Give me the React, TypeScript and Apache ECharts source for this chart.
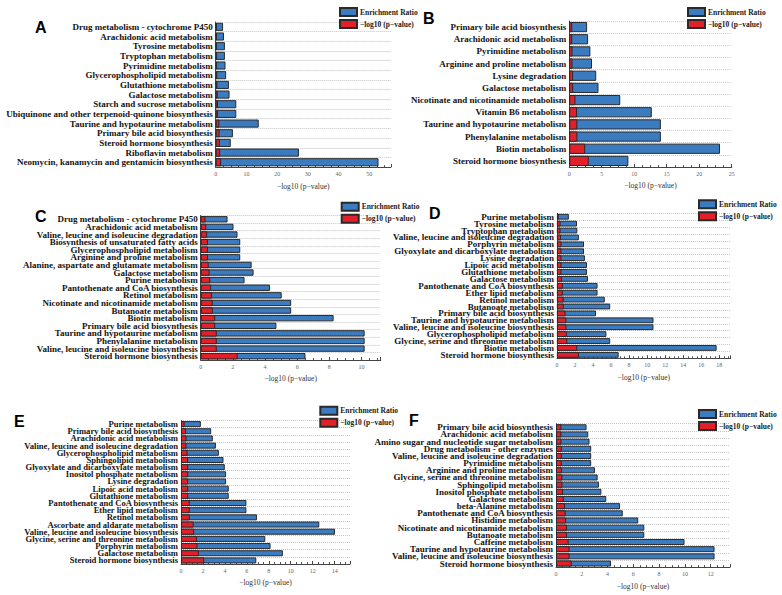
import React, { useEffect, useRef } from "react";
import * as echarts from "echarts";

// ---------- Panel A ----------
const aPathways = [
  "Drug metabolism - cytochrome P450",
  "Arachidonic acid metabolism",
  "Tyrosine metabolism",
  "Tryptophan metabolism",
  "Pyrimidine metabolism",
  "Glycerophospholipid metabolism",
  "Glutathione metabolism",
  "Galactose metabolism",
  "Starch and sucrose metabolism",
  "Ubiquinone and other terpenoid-quinone biosynthesis",
  "Taurine and hypotaurine metabolism",
  "Primary bile acid biosynthesis",
  "Steroid hormone biosynthesis",
  "Riboflavin metabolism",
  "Neomycin, kanamycin and gentamicin biosynthesis",
];
const aEnrichment = [2.4, 2.7, 3.0, 3.0, 3.2, 3.4, 4.3, 4.5, 6.7, 6.7, 14.0, 5.6, 4.9, 27.1, 53.0];
const aLogP = [0.35, 0.4, 0.4, 0.45, 0.45, 0.5, 0.55, 0.65, 0.75, 0.75, 1.2, 1.25, 1.35, 1.45, 1.75];

// ---------- Panel B ----------
const bPathways = [
  "Primary bile acid biosynthesis",
  "Arachidonic acid metabolism",
  "Pyrimidine metabolism",
  "Arginine and proline metabolism",
  "Lysine degradation",
  "Galactose metabolism",
  "Nicotinate and nicotinamide metabolism",
  "Vitamin B6 metabolism",
  "Taurine and hypotaurine metabolism",
  "Phenylalanine metabolism",
  "Biotin metabolism",
  "Steroid hormone biosynthesis",
];
const bEnrichment = [2.75, 2.9, 3.25, 3.5, 4.15, 4.5, 7.85, 12.7, 14.1, 14.1, 23.2, 9.1];
const bLogP = [0.45, 0.45, 0.5, 0.5, 0.6, 0.6, 0.95, 1.2, 1.25, 1.25, 2.45, 3.0];

// ---------- Panel C ----------
const cPathways = [
  "Drug metabolism - cytochrome P450",
  "Arachidonic acid metabolism",
  "Valine, leucine and isoleucine degradation",
  "Biosynthesis of unsaturated fatty acids",
  "Glycerophospholipid metabolism",
  "Arginine and proline metabolism",
  "Alanine, aspartate and glutamate metabolism",
  "Galactose metabolism",
  "Purine metabolism",
  "Pantothenate and CoA biosynthesis",
  "Retinol metabolism",
  "Nicotinate and nicotinamide metabolism",
  "Butanoate metabolism",
  "Biotin metabolism",
  "Primary bile acid biosynthesis",
  "Taurine and hypotaurine metabolism",
  "Phenylalanine metabolism",
  "Valine, leucine and isoleucine biosynthesis",
  "Steroid hormone biosynthesis",
];
const cEnrichment = [1.67, 2.04, 2.29, 2.46, 2.46, 2.46, 3.17, 3.29, 2.73, 4.31, 5.04, 5.63, 5.63, 8.27, 4.71, 10.2, 10.2, 10.2, 6.52];
const cLogP = [0.3, 0.35, 0.4, 0.45, 0.45, 0.45, 0.5, 0.55, 0.6, 0.65, 0.7, 0.75, 0.75, 0.9, 0.9, 1.0, 1.0, 1.0, 2.3];

// ---------- Panel D ----------
const dPathways = [
  "Purine metabolism",
  "Tyrosine metabolism",
  "Tryptophan metabolism",
  "Valine, leucine and isoleucine degradation",
  "Porphyrin metabolism",
  "Glyoxylate and dicarboxylate metabolism",
  "Lysine degradation",
  "Lipoic acid metabolism",
  "Glutathione metabolism",
  "Galactose metabolism",
  "Pantothenate and CoA biosynthesis",
  "Ether lipid metabolism",
  "Retinol metabolism",
  "Butanoate metabolism",
  "Primary bile acid biosynthesis",
  "Taurine and hypotaurine metabolism",
  "Valine, leucine and isoleucine biosynthesis",
  "Glycerophospholipid metabolism",
  "Glycine, serine and threonine metabolism",
  "Biotin metabolism",
  "Steroid hormone biosynthesis",
];
const dEnrichment = [1.32, 2.22, 2.26, 2.43, 3.0, 3.0, 3.1, 3.33, 3.33, 3.44, 4.5, 4.5, 5.3, 5.9, 4.33, 10.7, 10.7, 5.48, 5.9, 17.7, 6.84];
const dLogP = [0.2, 0.4, 0.4, 0.45, 0.5, 0.5, 0.5, 0.5, 0.5, 0.55, 0.65, 0.65, 0.75, 0.75, 0.95, 1.05, 1.05, 1.1, 1.15, 2.25, 2.43];

// ---------- Panel E ----------
const ePathways = [
  "Purine metabolism",
  "Primary bile acid biosynthesis",
  "Arachidonic acid metabolism",
  "Valine, leucine and isoleucine degradation",
  "Glycerophospholipid metabolism",
  "Sphingolipid metabolism",
  "Glyoxylate and dicarboxylate metabolism",
  "Inositol phosphate metabolism",
  "Lysine degradation",
  "Lipoic acid metabolism",
  "Glutathione metabolism",
  "Pantothenate and CoA biosynthesis",
  "Ether lipid metabolism",
  "Retinol metabolism",
  "Ascorbate and aldarate metabolism",
  "Valine, leucine and isoleucine biosynthesis",
  "Glycine, serine and threonine metabolism",
  "Porphyrin metabolism",
  "Galactose metabolism",
  "Steroid hormone biosynthesis",
];
const eEnrichment = [1.81, 2.75, 2.9, 3.18, 3.45, 3.87, 3.99, 4.11, 4.11, 4.35, 4.35, 5.96, 5.96, 6.92, 12.6, 14.03, 7.68, 8.16, 9.28, 6.86];
const eLogP = [0.33, 0.45, 0.5, 0.5, 0.6, 0.65, 0.65, 0.65, 0.65, 0.65, 0.65, 0.8, 0.8, 0.8, 1.15, 1.2, 1.45, 1.5, 1.63, 2.12];

// ---------- Panel F ----------
const fPathways = [
  "Primary bile acid biosynthesis",
  "Arachidonic acid metabolism",
  "Amino sugar and nucleotide sugar metabolism",
  "Drug metabolism - other enzymes",
  "Valine, leucine and isoleucine degradation",
  "Pyrimidine metabolism",
  "Arginine and proline metabolism",
  "Glycine, serine and threonine metabolism",
  "Sphingolipid metabolism",
  "Inositol phosphate metabolism",
  "Galactose metabolism",
  "beta-Alanine metabolism",
  "Pantothenate and CoA biosynthesis",
  "Histidine metabolism",
  "Nicotinate and nicotinamide metabolism",
  "Butanoate metabolism",
  "Caffeine metabolism",
  "Taurine and hypotaurine metabolism",
  "Valine, leucine and isoleucine biosynthesis",
  "Steroid hormone biosynthesis",
];
const fEnrichment = [2.37, 2.5, 2.6, 2.73, 2.73, 2.73, 3.02, 3.23, 3.33, 3.52, 3.9, 4.97, 5.18, 6.38, 6.85, 6.85, 9.97, 12.3, 12.3, 4.27];
const fLogP = [0.42, 0.42, 0.42, 0.45, 0.45, 0.45, 0.45, 0.5, 0.5, 0.55, 0.6, 0.7, 0.75, 0.78, 0.85, 0.85, 0.98, 1.05, 1.05, 1.22];

const SERIES_RATIO = "Enrichment Ratio";
const SERIES_LOGP = "\u2212log10 (p\u2212value)";

const SERIF = "'Liberation Serif', 'Times New Roman', serif";
const SANS = "'Liberation Sans', Arial, sans-serif";
const BLUE = "#3b7bbf";
const RED = "#e3202a";
const EDGE = "#2a2a2a";

type Box = { left: number; top: number; width: number; height: number };
type Panel = {
  letter: string;
  pathways: string[];
  enrichment: number[];
  logP: number[];
  axisMax: number;
  axisStep: number;
  box: Box;
  grid: { left: number; right: number; top: number; bottom: number };
  legendAt: [number, number];
  letterAt: [number, number];
  labelSize: number;
  labelLine: number;
  nameGap: number;
};

const panels: Panel[] = [
  {
    letter: "A", pathways: aPathways, enrichment: aEnrichment, logP: aLogP,
    axisMax: 57, axisStep: 10,
    box: { left: 0, top: 0, width: 430, height: 195 },
    grid: { left: 215.7, right: 39.2, top: 22, bottom: 27 },
    legendAt: [339, 7], letterAt: [35, 19], labelSize: 9, labelLine: 9.5, nameGap: 12,
  },
  {
    letter: "B", pathways: bPathways, enrichment: bEnrichment, logP: bLogP,
    axisMax: 25, axisStep: 5,
    box: { left: 408, top: 0, width: 374, height: 195 },
    grid: { left: 144.7, right: 50.3, top: 21, bottom: 28 },
    legendAt: [279, 7], letterAt: [15, 10], labelSize: 9, labelLine: 11, nameGap: 12.5,
  },
  {
    letter: "C", pathways: cPathways, enrichment: cEnrichment, logP: cLogP,
    axisMax: 11.2, axisStep: 2,
    box: { left: 0, top: 190, width: 430, height: 200 },
    grid: { left: 200.7, right: 49.3, top: 25.5, bottom: 30 },
    legendAt: [340.7, 11.7], letterAt: [35, 18.7], labelSize: 9, labelLine: 7.4, nameGap: 14,
  },
  {
    letter: "D", pathways: dPathways, enrichment: dEnrichment, logP: dLogP,
    axisMax: 19.26, axisStep: 2,
    box: { left: 390, top: 190, width: 392, height: 200 },
    grid: { left: 161, right: 51.3, top: 23.3, bottom: 31.7 },
    legendAt: [308, 9.3], letterAt: [39, 15], labelSize: 9, labelLine: 6.7, nameGap: 14,
  },
  {
    letter: "E", pathways: ePathways, enrichment: eEnrichment, logP: eLogP,
    axisMax: 15.4, axisStep: 2,
    box: { left: 0, top: 385, width: 400, height: 210 },
    grid: { left: 181, right: 50, top: 35.5, bottom: 31 },
    legendAt: [319.3, 20.7], letterAt: [14, 28.7], labelSize: 8.6, labelLine: 7, nameGap: 13.5,
  },
  {
    letter: "F", pathways: fPathways, enrichment: fEnrichment, logP: fLogP,
    axisMax: 13.5, axisStep: 2,
    box: { left: 370, top: 385, width: 412, height: 210 },
    grid: { left: 186, right: 52, top: 38.7, bottom: 27.7 },
    legendAt: [328, 24], letterAt: [39, 27.7], labelSize: 9, labelLine: 7, nameGap: 14,
  },
];

function buildOption(p: Panel) {
  const maxOnStep = Math.abs(p.axisMax / p.axisStep - Math.round(p.axisMax / p.axisStep)) < 1e-6;
  return {
    animation: false,
    backgroundColor: "transparent",
    title: {
      text: p.letter,
      left: p.letterAt[0],
      top: p.letterAt[1],
      padding: 0,
      textStyle: { fontFamily: SANS, fontWeight: "bold", fontSize: 16, color: "#000" },
    },
    legend: {
      orient: "vertical",
      left: p.legendAt[0],
      top: p.legendAt[1],
      padding: 0,
      icon: "rect",
      itemWidth: 17,
      itemHeight: 8,
      itemGap: 2,
      selectedMode: false,
      data: [SERIES_RATIO, SERIES_LOGP],
      textStyle: { fontFamily: SERIF, fontWeight: "bold", fontSize: 7.5, lineHeight: 8, color: "#222", padding: [0, 0, 0, -2] },
    },
    grid: { ...p.grid, containLabel: false },
    xAxis: {
      type: "value",
      min: 0,
      max: p.axisMax,
      interval: p.axisStep,
      name: SERIES_LOGP,
      nameLocation: "middle",
      nameGap: p.nameGap,
      nameTextStyle: { fontFamily: SERIF, fontSize: 7.5, color: "#333" },
      axisLine: { show: true, lineStyle: { color: "#444", width: 1 } },
      axisTick: { show: true, inside: true, length: 3, lineStyle: { color: "#444" } },
      minorTick: { show: true, splitNumber: 4, length: 2, lineStyle: { color: "#555" } },
      splitLine: { show: false },
      axisLabel: { fontFamily: SERIF, fontSize: 6, color: "#666", margin: 4, showMaxLabel: maxOnStep },
    },
    yAxis: {
      type: "category",
      inverse: true,
      data: p.pathways,
      axisLine: { show: true, lineStyle: { color: "#444", width: 1 } },
      axisTick: { show: false },
      splitLine: { show: true, interval: 0, lineStyle: { color: "#c4c4c4", type: "dotted", width: 1 } },
      axisLabel: {
        interval: 0,
        hideOverlap: false,
        fontFamily: SERIF,
        fontWeight: "bold",
        fontSize: p.labelSize,
        lineHeight: p.labelLine,
        color: "#141414",
        margin: 3,
      },
    },
    series: [
      {
        name: SERIES_RATIO,
        type: "bar",
        data: p.enrichment,
        barCategoryGap: "16%",
        barGap: "-100%",
        itemStyle: { color: BLUE, borderColor: EDGE, borderWidth: 1 },
      },
      {
        name: SERIES_LOGP,
        type: "bar",
        data: p.logP,
        barCategoryGap: "16%",
        barGap: "-100%",
        itemStyle: { color: RED, borderColor: EDGE, borderWidth: 1 },
      },
    ],
  };
}

function PanelChart({ panel }: { panel: Panel }) {
  const ref = useRef<HTMLDivElement | null>(null);
  useEffect(() => {
    if (!ref.current) return;
    const chart = echarts.init(ref.current, undefined, { renderer: "svg" });
    chart.setOption(buildOption(panel));
    return () => chart.dispose();
  }, [panel]);
  return (
    <div
      ref={ref}
      style={{
        position: "absolute",
        left: panel.box.left,
        top: panel.box.top,
        width: panel.box.width,
        height: panel.box.height,
        overflow: "hidden",
      }}
    />
  );
}

export default function App() {
  return (
    <div style={{ position: "absolute", left: 0, top: 0, width: 782, height: 595, background: "#fff" }}>
      {panels.map((p) => (
        <PanelChart key={p.letter} panel={p} />
      ))}
    </div>
  );
}
